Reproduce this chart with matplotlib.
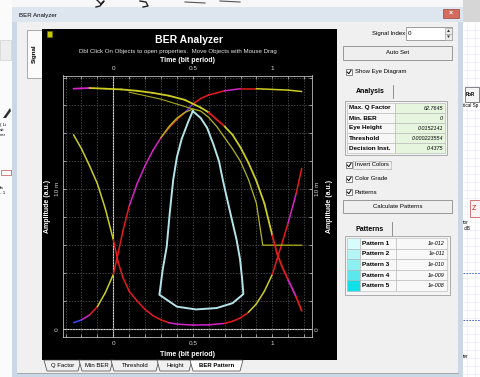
import numpy as np
import matplotlib
matplotlib.use('Agg')
import matplotlib.pyplot as plt
from matplotlib.patches import Rectangle, Polygon
from matplotlib.collections import LineCollection

plt.rcParams['font.family'] = ['Liberation Sans', 'DejaVu Sans']

# ---------------- data (amplitude in milli a.u.) ----------------
rise_x = [-0.25, -0.2, -0.15, -0.1, -0.05, 0.0, 0.03, 0.06, 0.1, 0.15, 0.2, 0.25, 0.3, 0.35,
          0.4, 0.45, 0.5, 0.55, 0.6, 0.65, 0.7, 0.8, 0.9, 1.0, 1.1, 1.185]
rise_y = [0.45, 0.65, 1.0, 1.6, 2.6, 3.9, 5.4, 7.0, 8.8, 10.4, 11.7, 12.8, 13.7, 14.4,
          15.0, 15.5, 16.1, 16.5, 16.75, 16.9, 17.05, 17.2, 17.2, 17.15, 17.1, 17.0]

fall_x = [-0.25, -0.15, -0.05, 0.05, 0.15, 0.25, 0.35, 0.45, 0.55, 0.6, 0.65, 0.7, 0.75,
          0.8, 0.85, 0.9, 0.95, 1.0, 1.03, 1.06, 1.1, 1.15, 1.185]
fall_y = [17.2, 17.25, 17.2, 17.15, 17.05, 16.9, 16.7, 16.4, 15.85, 15.5, 15.0, 14.5, 13.9,
          13.0, 11.9, 10.6, 9.0, 6.7, 5.4, 4.5, 3.5, 2.3, 1.3]

low_x = [-0.25, -0.2, -0.15, -0.1, -0.05, 0.0, 0.03, 0.06, 0.1, 0.15, 0.2, 0.25, 0.3, 0.35,
         0.4, 0.5, 0.6, 0.7, 0.75, 0.8, 0.85, 0.9, 0.95, 1.0, 1.03, 1.06, 1.1, 1.15, 1.185]
low_y = [13.9, 12.9, 11.7, 10.4, 8.6, 6.4, 4.8, 3.7, 2.7, 2.0, 1.4, 0.95, 0.65, 0.45,
         0.35, 0.28, 0.3, 0.4, 0.55, 0.8, 1.2, 1.8, 2.7, 3.9, 5.0, 6.1, 7.6, 9.7, 11.5]

olive_x = [0.3, 0.35, 0.4, 0.45, 0.5, 0.55, 0.6, 0.65, 0.7, 0.75, 0.8, 0.85, 0.9, 0.94, 1.0, 1.185]
olive_y = [13.7, 14.5, 15.1, 15.5, 15.75, 15.6, 15.15, 14.5, 13.7, 12.9, 12.0, 10.7, 9.0, 6.0, 6.0, 6.0]

olive2_x = [0.1, 0.2, 0.3, 0.4, 0.5]
olive2_y = [16.95, 16.7, 16.45, 16.1, 15.75]

eye_x = [0.5, 0.55, 0.59, 0.63, 0.665, 0.69, 0.73, 0.775, 0.797, 0.81, 0.818, 0.75, 0.65,
         0.52, 0.4, 0.29, 0.31, 0.336, 0.355, 0.377, 0.4, 0.43, 0.47, 0.5]
eye_y = [15.6, 15.1, 14.4, 13.2, 12.0, 10.6, 8.6, 6.4, 5.0, 3.6, 2.5, 1.85, 1.5,
         1.4, 1.6, 2.45, 4.2, 5.9, 8.3, 10.7, 12.3, 13.6, 14.8, 15.6]

x_tick_values = [0, 0.5, 1]
x_tick_labels = ['0', '0.5', '1']
y_tick_values = [0, 10]
y_tick_labels = ['0', '10 m']

analysis_names = ['Max. Q Factor', 'Min. BER', 'Eye Height', 'Threshold', 'Decision Inst.']
analysis_values = ['62.7645', '0', '0.0152141', '0.000223554', '0.4375']
pattern_names = ['Pattern 1', 'Pattern 2', 'Pattern 3', 'Pattern 4', 'Pattern 5']
pattern_bers = ['1e-012', '1e-011', '1e-010', '1e-009', '1e-008']
tab_names = ['Q Factor', 'Min BER', 'Threshold', 'Height', 'BER Pattern']
option_labels = ['Invert Colors', 'Color Grade', 'Patterns']

# ---------------- figure ----------------
W, H = 481, 377
fig = plt.figure(figsize=(W / 100, H / 100), dpi=100, facecolor='#f7f7f7')
bg = fig.add_axes([0, 0, 1, 1])
bg.set_xlim(0, W)
bg.set_ylim(H, 0)
bg.axis('off')


def R(x0, y0, x1, y1, fc, ec='none', lw=0.6, z=1, ls='-'):
    bg.add_patch(Rectangle((x0, y0), x1 - x0, y1 - y0, facecolor=fc, edgecolor=ec,
                           linewidth=lw, zorder=z, linestyle=ls))


def T(x, y, s, size=4.3, ha='left', va='center', color='black', weight='normal',
      style='normal', rot=0, z=5):
    bg.text(x, y, s, fontsize=size, ha=ha, va=va, color=color, fontweight=weight,
            fontstyle=style, rotation=rot, zorder=z)


# outer application background (left / right strips)
R(0, 0, 12, H, '#fbfbfb')
R(463, 0, W, H, '#ffffff')
R(463, 0, W, 22, '#d6d6d6')
for gy in np.arange(30, H, 8):
    bg.plot([463, W], [gy, gy], color='#e4e9f0', lw=0.4, zorder=1)
for gx in np.arange(467, W, 8):
    bg.plot([gx, gx], [22, H], color='#e4e9f0', lw=0.4, zorder=1)
for gy in (273, 320):
    bg.plot([463, W], [gy, gy], color='#3050c0', lw=0.6, ls=(0, (2, 1.5)), zorder=2)
R(465, 87, 479, 102, '#f4f4f4', ec='#555', lw=0.5, z=2)
T(466, 94.5, 'RoR', size=3.3, weight='bold', z=3)
T(463, 106, 'tical Sp', size=3.3, z=3)
R(470, 200, W + 2, 217, '#fff4f4', ec='#c04040', lw=0.5, z=2)
T(472, 208, 'Z', size=5, color='#d02020', z=3)
T(463, 223, 'tor', size=3.3, z=3)
T(463, 229, ' dB', size=3.3, z=3)
T(463, 357, 'ter', size=3.3, z=3)
# left strip fragments
R(0, 40, 11, 60, '#eeeeee', ec='#c8c8c8', lw=0.4)
bg.add_patch(Polygon([(3, 118), (10, 108), (11, 111), (6, 118)], facecolor='#303030', zorder=2))
T(0, 125, '( Li', size=3.2)
T(0, 130, 'sit', size=3.2)
T(0, 135, 'ver', size=3.2)
R(1, 170, 11, 175, 'none', ec='#c05050', lw=0.5)
T(0, 188, 'fa', size=3.2)
T(0, 193, '- 1', size=3.2)
# scribbles at very top
bg.plot([97, 101, 104, 100, 96], [0, 4, 1, 6, 7], color='#222', lw=1.0)
bg.plot([140, 146, 148, 143], [1, 2, 6, 7], color='#222', lw=1.0)
bg.plot([185, 205], [2, 3], color='#555', lw=0.8)
bg.plot([220, 240], [1, 2], color='#555', lw=0.8)

# window frame
R(12, 7, 463, H, '#cbd7e4')
R(12, 7, 463, 22, '#dde5ee')
T(19, 15, 'BER Analyzer', size=4.4)
R(443, 8.5, 459, 18, '#d46b5e', ec='#9a4038', lw=0.5, z=2)
T(451, 13, '×', size=5, ha='center', color='white', weight='bold')
R(17, 22, 458, 373, '#f0f0f0')
bg.plot([17, 458], [373, 373], color='#a0a0a0', lw=0.6)

# Signal tab
R(27, 30, 42, 78, '#fbfbfb', ec='#8a8a8a', lw=0.5, z=2)
T(34.5, 54, 'Signal', size=4.5, weight='bold', rot=90, ha='center')

# black plot panel
R(42, 29, 337, 360, 'black', z=2)
R(47, 31, 52, 37, '#c8c800', ec='#707000', lw=0.5, z=3)
T(189, 40, 'BER Analyzer', size=7.5, weight='bold', color='white', ha='center')
T(178, 52, 'Dbl Click On Objects to open properties.  Move Objects with Mouse Drag',
  size=4.4, color='#e6e6e6', ha='center')
T(187.5, 60.5, 'Time (bit period)', size=5.0, weight='bold', color='white', ha='center')
T(187.5, 354.5, 'Time (bit period)', size=5.0, weight='bold', color='white', ha='center')
T(48, 206, 'Amplitude (a.u.)', size=5.0, weight='bold', color='white', rot=90, ha='center')
T(330, 206, 'Amplitude (a.u.)', size=5.0, weight='bold', color='white', rot=90, ha='center')

# bottom tabs
tab_edges = [44, 79, 111, 157, 190, 241]
for i, name in enumerate(tab_names):
    x0, x1 = tab_edges[i], tab_edges[i + 1]
    sel = (i == len(tab_names) - 1)
    bg.add_patch(Polygon([(x0, 360), (x0 + 3, 371), (x1 - 1, 371), (x1 + 2, 360)],
                         facecolor='white' if sel else '#f0f0f0', edgecolor='#404040',
                         linewidth=0.5, zorder=4 if sel else 3))
    T((x0 + x1) / 2 + 1.5, 365.5, name, size=4.3, ha='center',
      weight='bold' if sel else 'normal', z=6)

# ---------------- right control panel ----------------
T(405, 33, 'Signal Index', ha='right')
R(406, 27, 452, 40, 'white', ec='#7a7a7a', lw=0.5, z=2)
T(408, 33.5, '0', size=4.5, z=3)
R(445, 27.5, 452, 33.5, '#ececec', ec='#999', lw=0.4, z=3)
R(445, 33.5, 452, 40, '#ececec', ec='#999', lw=0.4, z=3)
bg.add_patch(Polygon([(447, 32), (450, 32), (448.5, 29.5)], facecolor='#333', zorder=4))
bg.add_patch(Polygon([(447, 35.5), (450, 35.5), (448.5, 38)], facecolor='#333', zorder=4))

R(343, 46, 452, 60, '#efefef', ec='#8a8a8a', lw=0.6, z=2)
T(397.5, 53, 'Auto Set', ha='center')


def checkbox(y, label, focus=False):
    R(346, y - 3, 352, y + 3, 'white', ec='#555', lw=0.5, z=2)
    bg.plot([347.2, 348.8, 351], [y, y + 1.7, y - 1.7], color='black', lw=0.7, zorder=3)
    T(355, y, label)
    if focus:
        R(353.5, y - 4, 391, y + 4, 'none', ec='#555', lw=0.4, z=3, ls=(0, (1, 1)))


checkbox(72, 'Show Eye Diagram')

# Analysis tab + table
bg.plot([393, 393], [85, 98], color='#808080', lw=0.6)
T(370, 91.5, 'Analysis', size=5.0, weight='bold', ha='center')
R(345, 101, 447, 155, '#f4f4f4', ec='#a0a0a0', lw=0.6, z=2)
for i, (nm, val) in enumerate(zip(analysis_names, analysis_values)):
    y0 = 103 + 10 * i
    R(347, y0, 395.5, y0 + 10, '#f7f7f7', ec='#b4b4b4', lw=0.4, z=3)
    R(395.5, y0, 445, y0 + 10, '#e6f5de', ec='#b4b4b4', lw=0.4, z=3)
    T(349, y0 + 5, nm, size=4.6, weight='bold', z=4)
    T(443, y0 + 5, val, size=3.9, ha='right', style='italic', z=4)

for j, lab in enumerate(option_labels):
    checkbox([165, 179, 192][j], lab, focus=(j == 0))

R(343, 200, 452, 213, '#efefef', ec='#8a8a8a', lw=0.6, z=2)
T(397.5, 206.5, 'Calculate Patterns', ha='center')

# Patterns tab + table
bg.plot([392, 392], [222, 237], color='#808080', lw=0.6)
T(370, 229.5, 'Patterns', size=5.0, weight='bold', ha='center')
R(345, 236, 450, 295, '#f4f4f4', ec='#a0a0a0', lw=0.6, z=2)
swatch = ['#d8fbfb', '#b4f6f6', '#8cf0f2', '#5ae8ee', '#10e0e8']
for i, (nm, ber) in enumerate(zip(pattern_names, pattern_bers)):
    y0 = 238 + 10.6 * i
    R(347, y0, 360, y0 + 10.6, swatch[i], ec='#b4b4b4', lw=0.4, z=3)
    R(360, y0, 396, y0 + 10.6, '#f8f8f8', ec='#b4b4b4', lw=0.4, z=3)
    R(396, y0, 447, y0 + 10.6, '#f8f8f8', ec='#b4b4b4', lw=0.4, z=3)
    T(362, y0 + 5.3, nm, size=4.6, weight='bold', z=4)
    T(445, y0 + 5.3, ber, size=3.9, ha='right', style='italic', z=4)

# ---------------- eye diagram axes ----------------
L, Rp, Tp, Bp = 63, 312, 75.5, 336.5
ax = fig.add_axes([L / W, 1 - Bp / H, (Rp - L) / W, (Bp - Tp) / H], facecolor='black')
px_per_bit, x0px = 159.0, 113.3
px_per_m, y0px = 13.97, 329.0
ax.set_xlim((L - x0px) / px_per_bit, (Rp - x0px) / px_per_bit)
ax.set_ylim((y0px - Bp) / px_per_m, (y0px - Tp) / px_per_m)

ax.set_xticks(np.round(np.arange(-0.3, 1.21, 0.1), 2), minor=True)
ax.set_yticks(np.arange(2, 18.1, 2), minor=True)
ax.set_xticks(x_tick_values)
ax.set_xticklabels(x_tick_labels)
ax.set_yticks(y_tick_values)
ax.set_yticklabels(y_tick_labels)
ax.grid(True, which='both', color='#5c5c5c', lw=0.5, ls=(0, (2, 2)))
ax.tick_params(which='both', direction='in', color='#c8c8c8', length=2.5, width=0.5,
               top=True, right=True, bottom=True, left=True)
ax.tick_params(axis='x', labeltop=True, labelbottom=True, labelsize=4.6,
               labelcolor='#d8d8d8', pad=3)
ax.tick_params(axis='y', labelleft=True, labelright=True, labelsize=4.6,
               labelcolor='#d8d8d8', labelrotation=90, pad=2)
for lab in ax.get_yticklabels():
    lab.set_va('center')
for sp in ax.spines.values():
    sp.set_color('#bdbdbd')
    sp.set_linewidth(0.6)
ax.axvline(0, color='#dcdcdc', lw=0.8, zorder=1)
ax.axhline(0, color='#dcdcdc', lw=0.8, zorder=1)

Y, Rd, M, B, O, P = '#cccc22', '#e41c1c', '#d424c8', '#3848ff', '#e8501c', '#7030c8'
rise_colors = [(-0.2, B), (-0.13, M), (-0.08, Rd), (0.0, Y), (0.1, Rd), (0.28, M), (0.45, O),
               (0.5, P), (0.7, Rd), (0.85, M), (0.9, Rd), (9, Y)]
fall_colors = [(-0.17, M), (-0.12, Rd), (0.6, Y), (0.7, Rd), (1.0, Y), (1.1, Rd), (1.16, M), (9, Rd)]
low_colors = [(0.0, Y), (0.35, Rd), (0.7, M), (0.85, Rd), (1.0, Y), (1.1, Rd), (1.16, M), (9, Rd)]


def graded(xs, ys, stops, lw=1.1, z=3):
    pts = np.column_stack([xs, ys])
    segs = np.stack([pts[:-1], pts[1:]], axis=1)
    mids = (pts[:-1, 0] + pts[1:, 0]) / 2
    cols = [next(c for ub, c in stops if m <= ub) for m in mids]
    ax.add_collection(LineCollection(segs, colors=cols, linewidths=lw, capstyle='round',
                                     joinstyle='round', zorder=z))


graded(low_x, low_y, low_colors)
graded(rise_x, rise_y, rise_colors)
ax.plot(olive_x, olive_y, color='#b4b41e', lw=0.9, zorder=3)
ax.plot(olive2_x, olive2_y, color='#a8a81c', lw=0.8, zorder=3)
graded(fall_x, fall_y, fall_colors, lw=1.3, z=4)
ax.plot(eye_x, eye_y, color='#b4e4ea', lw=1.4, zorder=5)

fig.savefig('out.png', dpi=100, facecolor=fig.get_facecolor())
